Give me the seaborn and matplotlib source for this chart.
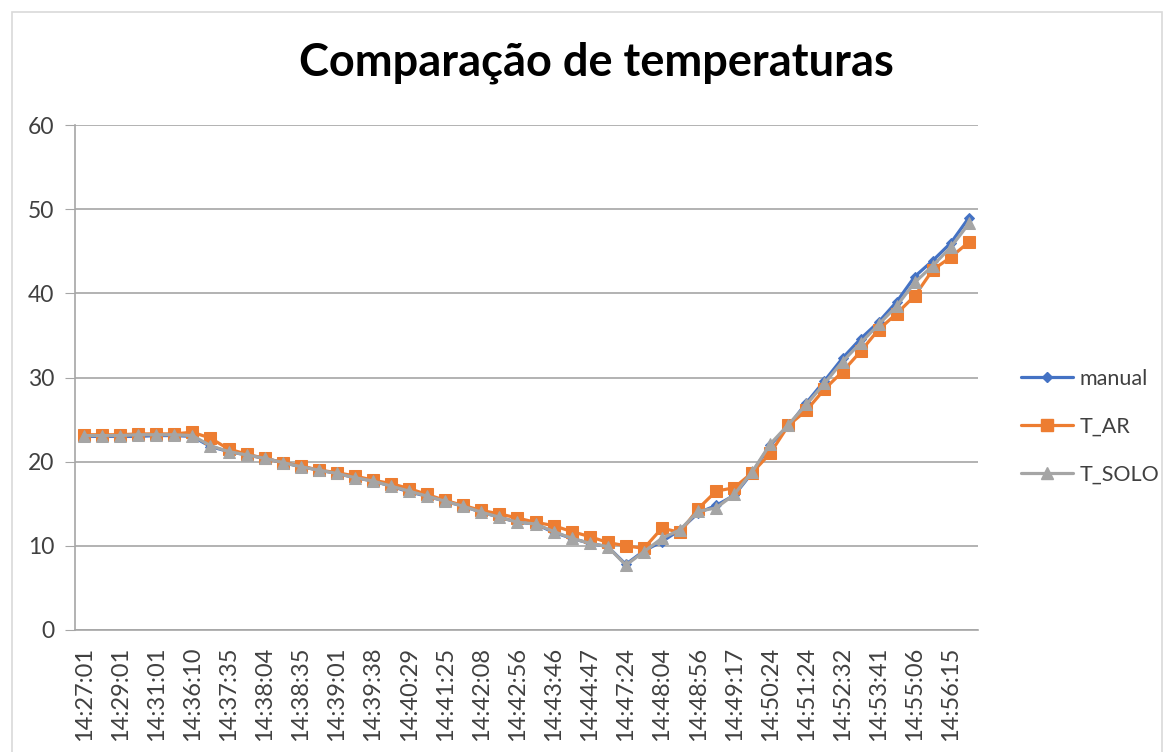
import matplotlib
matplotlib.use("Agg")
import matplotlib.pyplot as plt
import numpy as np
import pandas as pd
import seaborn as sns
from matplotlib.patches import Rectangle
from matplotlib.lines import Line2D

# rótulos visíveis do eixo x (um a cada duas leituras)
tick_labels = [
    "14:27:01", "14:29:01", "14:31:01", "14:36:10", "14:37:35", "14:38:04",
    "14:38:35", "14:39:01", "14:39:38", "14:40:29", "14:41:25", "14:42:08",
    "14:42:56", "14:43:46", "14:44:47", "14:47:24", "14:48:04", "14:48:56",
    "14:49:17", "14:50:24", "14:51:24", "14:52:32", "14:53:41", "14:55:06",
    "14:56:15",
]

manual = [23.0, 23.0, 23.0, 23.0, 23.1, 23.1, 23.0, 21.8, 21.2, 20.8,
          20.4, 19.9, 19.4, 19.0, 18.6, 18.1, 17.7, 17.1, 16.4, 15.9,
          15.3, 14.7, 14.0, 13.4, 12.8, 12.6, 11.6, 10.9, 10.3, 9.9,
          7.8, 9.4, 10.5, 11.9, 13.9, 14.8, 16.0, 18.7, 22.0, 24.2,
          27.0, 29.6, 32.3, 34.6, 36.6, 39.0, 42.0, 43.9, 46.0, 49.0]

t_ar = [23.2, 23.2, 23.2, 23.3, 23.3, 23.3, 23.5, 22.8, 21.5, 20.9,
        20.4, 19.9, 19.5, 19.0, 18.7, 18.3, 17.8, 17.4, 16.8, 16.1,
        15.4, 14.8, 14.2, 13.8, 13.3, 12.8, 12.4, 11.7, 11.1, 10.4,
        10.0, 9.7, 12.1, 11.6, 14.4, 16.5, 16.9, 18.7, 21.0, 24.3,
        26.1, 28.6, 30.7, 33.1, 35.7, 37.6, 39.7, 42.8, 44.3, 46.1]

t_solo = [23.1, 23.1, 23.1, 23.2, 23.2, 23.2, 23.1, 21.9, 21.2, 20.8,
          20.4, 19.9, 19.4, 19.0, 18.6, 18.1, 17.7, 17.1, 16.5, 15.9,
          15.3, 14.7, 14.0, 13.4, 12.8, 12.6, 11.7, 10.9, 10.3, 9.9,
          7.7, 9.3, 10.9, 11.9, 14.1, 14.5, 16.1, 18.8, 22.1, 24.4,
          26.8, 29.3, 31.9, 34.1, 36.3, 38.5, 41.3, 43.3, 45.5, 48.3]

series_names = ["manual", "T_AR", "T_SOLO"]
colors = {"manual": "#4472C4", "T_AR": "#ED7D31", "T_SOLO": "#A5A5A5"}
markers = {"manual": "D", "T_AR": "s", "T_SOLO": "^"}
msizes = {"manual": 5, "T_AR": 8, "T_SOLO": 9}

n = len(manual)
df = pd.DataFrame({
    "idx": np.tile(np.arange(n), 3),
    "valor": manual + t_ar + t_solo,
    "serie": np.repeat(series_names, n),
})

sns.set_style("white")
plt.rcParams["font.family"] = ["Lato", "DejaVu Sans"]

fig = plt.figure(figsize=(11.76, 7.52), dpi=100)
ax = fig.add_axes([75 / 1176, 1 - 630 / 752, 903 / 1176, 505 / 752])

for name in series_names:
    sns.lineplot(data=df[df["serie"] == name], x="idx", y="valor", ax=ax,
                 color=colors[name], marker=markers[name], markersize=msizes[name],
                 markeredgecolor=colors[name], linewidth=2.3, legend=False)

ax.set_xlim(-0.5, n - 0.5)
ax.set_ylim(0, 60)
ax.set_yticks(range(0, 61, 10))
ax.set_xticks(np.arange(0, n, 2))
ax.set_xticklabels(tick_labels, rotation=90, fontsize=17, color="#404040")
ax.set_xticks(np.arange(-0.5, n, 1), minor=True)
ax.tick_params(axis="x", which="major", length=0, pad=12)
ax.tick_params(axis="x", which="minor", length=7, color="#A6A6A6", direction="out")
ax.tick_params(axis="y", length=7, color="#A6A6A6", labelsize=16.5,
               labelcolor="#404040", pad=8, left=True)
ax.set_xlabel("")
ax.set_ylabel("")
ax.grid(axis="y", color="#A6A6A6", linewidth=1.2)
ax.grid(axis="x", visible=False)
for side in ["top", "right"]:
    ax.spines[side].set_visible(False)
for side in ["left", "bottom"]:
    ax.spines[side].set_color("#A6A6A6")
    ax.spines[side].set_linewidth(1.2)

fig.text(596 / 1176, 1 - 63 / 752, "Comparação de temperaturas", ha="center",
         va="center", fontsize=32.5, fontweight="bold", color="black")

handles = [Line2D([0], [0], color=colors[s], marker=markers[s], markersize=msizes[s],
                  linewidth=2.3) for s in series_names]
fig.legend(handles, series_names, loc="center left",
           bbox_to_anchor=(1006 / 1176, 1 - 427 / 752), frameon=False,
           fontsize=15.5, handlelength=2.4, handletextpad=0.3, labelspacing=1.3,
           labelcolor="#404040", borderpad=0.2)

fig.patches.append(Rectangle((12 / 1176, -0.05), 1150 / 1176, 1.04 - 12 / 752 + 0.01,
                             transform=fig.transFigure, fill=False,
                             edgecolor="#D9D9D9", linewidth=1.2))

fig.savefig("out.png", dpi=100)
plt.close(fig)
